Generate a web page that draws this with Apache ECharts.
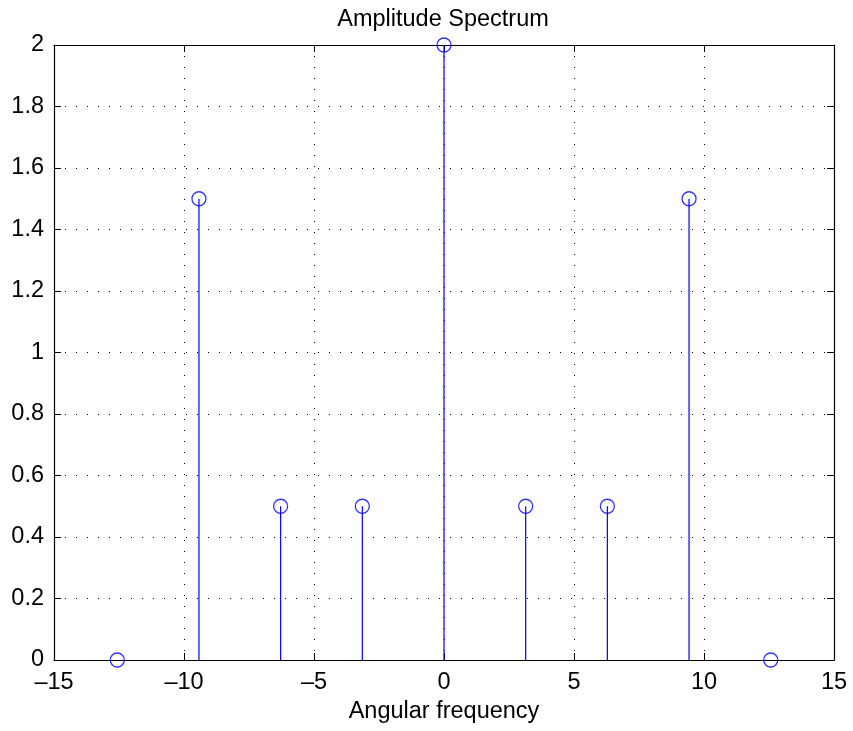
<!DOCTYPE html>
<html>
<head>
<meta charset="utf-8">
<script src="https://cdn.jsdelivr.net/npm/echarts@6/dist/echarts.min.js"></script>
<style>html,body{margin:0;padding:0;background:#fff;}#c{width:853px;height:731px;}</style>
</head>
<body>
<div id="c"></div>
<script>
// Data: stems at multiples of pi
const harmonics = [-4, -3, -2, -1, 0, 1, 2, 3, 4];
const frequencies = harmonics.map(k => k * Math.PI);
const amplitudes = [0, 1.5, 0.5, 0.5, 2, 0.5, 0.5, 1.5, 0];
const titleText = 'Amplitude Spectrum';
const xLabel = 'Angular frequency';

const FONT = "'Liberation Sans', Arial, Helvetica, sans-serif";
const BLUE = '#0000ff';
const fs = 23.5;

const points = frequencies.map((f, i) => [f, amplitudes[i]]);
const minusFmt = v => String(v).replace('-', '\u2013');

const chart = echarts.init(document.getElementById('c'), null, {renderer: 'canvas'});
const baseAxisX = {
  type: 'value', min: -15, max: 15, interval: 5
};
const baseAxisY = {
  type: 'value', min: 0, max: 2, interval: 0.2
};
chart.setOption({
  animation: false,
  backgroundColor: '#fff',
  title: {
    text: titleText, left: 438, textAlign: 'center', top: 3,
    textStyle: {fontFamily: FONT, fontSize: fs, fontWeight: 'normal', color: '#000'}
  },
  grid: {left: 54, right: 19, top: 45, bottom: 71, containLabel: false},
  xAxis: [
    Object.assign({}, baseAxisX, {
      position: 'bottom',
      name: xLabel, nameLocation: 'middle', nameGap: 30,
      nameTextStyle: {fontFamily: FONT, fontSize: fs, color: '#000'},
      axisLine: {show: true, onZero: false, lineStyle: {color: '#000', width: 1.2}},
      axisTick: {show: true, inside: true, length: 7, lineStyle: {color: '#000'}},
      axisLabel: {show: true, margin: 11, fontFamily: FONT, fontSize: fs, color: '#000', formatter: minusFmt},
      splitLine: {show: true, lineStyle: {color: '#000', type: [1, 10], width: 1}}
    }),
    Object.assign({}, baseAxisX, {
      position: 'top',
      axisLine: {show: true, onZero: false, lineStyle: {color: '#000', width: 1.2}},
      axisTick: {show: true, inside: true, length: 7, lineStyle: {color: '#000'}},
      axisLabel: {show: false},
      splitLine: {show: false}
    })
  ],
  yAxis: [
    Object.assign({}, baseAxisY, {
      position: 'left',
      axisLine: {show: true, onZero: false, lineStyle: {color: '#000', width: 1.2}},
      axisTick: {show: true, inside: true, length: 7, lineStyle: {color: '#000'}},
      axisLabel: {show: true, margin: 10, fontFamily: FONT, fontSize: fs, color: '#000'},
      splitLine: {show: true, lineStyle: {color: '#000', type: [1, 10], width: 1}}
    }),
    Object.assign({}, baseAxisY, {
      position: 'right',
      axisLine: {show: true, onZero: false, lineStyle: {color: '#000', width: 1.2}},
      axisTick: {show: true, inside: true, length: 7, lineStyle: {color: '#000'}},
      axisLabel: {show: false},
      splitLine: {show: false}
    })
  ],
  series: [
    {
      type: 'custom',
      xAxisIndex: 0, yAxisIndex: 0,
      data: points,
      renderItem: function (params, api) {
        const top = api.coord([api.value(0), api.value(1)]);
        const base = api.coord([api.value(0), 0]);
        return {
          type: 'line',
          shape: {x1: base[0], y1: base[1], x2: top[0], y2: top[1]},
          style: {stroke: BLUE, lineWidth: 1.2}
        };
      },
      z: 3
    },
    {
      type: 'scatter',
      xAxisIndex: 0, yAxisIndex: 0,
      data: points,
      symbol: 'circle',
      symbolSize: 14,
      itemStyle: {color: 'rgba(0,0,0,0)', borderColor: BLUE, borderWidth: 1.3},
      z: 4
    }
  ]
});
</script>
</body>
</html>
